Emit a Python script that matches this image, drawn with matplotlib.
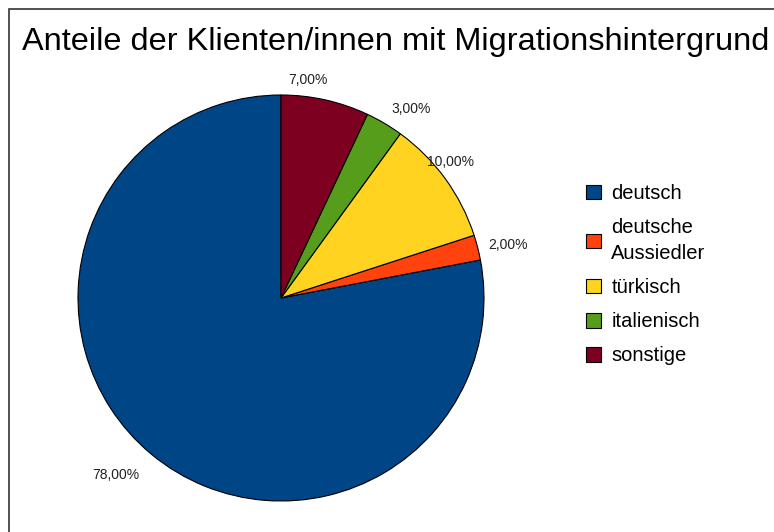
import numpy as np
import matplotlib.pyplot as plt
from matplotlib.patches import Patch, Rectangle

plt.rcParams['font.family'] = ['Liberation Sans', 'DejaVu Sans']

# data
categories = ["deutsch", "deutsche\nAussiedler", "türkisch", "italienisch", "sonstige"]
shares = [78, 2, 10, 3, 7]
colors = ["#004586", "#ff420e", "#ffd320", "#579d1c", "#7e0021"]
title = "Anteile der Klienten/innen mit Migrationshintergrund"

# small nudges of the percent labels (angle in degrees, radius as pie fraction)
label_dang = [-3.4, -1.4, 2.6, -3.8, 5.5]
label_rad = [1.19, 1.15, 1.07, 1.13, 1.08]

fig = plt.figure(figsize=(7.74, 5.32), dpi=100)

# outer frame (runs off the right/bottom edge like the original)
fig.patches.append(Rectangle((9 / 774, -0.05), 1.0, 1 - 9 / 532 + 0.05,
                             transform=fig.transFigure, fill=False,
                             edgecolor="#333333", linewidth=1.2))

fig.text(22 / 774, 1 - 50 / 532, title, fontsize=23.4, va="baseline", ha="left")

ax = fig.add_axes([78 / 774, 31 / 532, 406 / 774, 406 / 532])
wedges, texts, autotexts = ax.pie(
    shares, colors=colors, startangle=90, counterclock=True,
    autopct=lambda p: f"{p:.2f}".replace(".", ",") + "%",
    pctdistance=1.13,
    wedgeprops=dict(edgecolor="black", linewidth=0.8),
    textprops=dict(fontsize=10, color="#222222"),
)
for w, t, da, r in zip(wedges, autotexts, label_dang, label_rad):
    ang = np.deg2rad((w.theta1 + w.theta2) / 2 + da)
    t.set_position((r * np.cos(ang), r * np.sin(ang)))
ax.set_xlim(-1, 1)
ax.set_ylim(-1, 1)
ax.set_aspect("equal")
ax.axis("off")

handles = [Patch(facecolor=c, edgecolor="black", linewidth=0.8) for c in colors]
leg = fig.legend(handles, categories, loc="upper left",
                 bbox_to_anchor=(568 / 774, 1 - 166 / 532), frameon=False,
                 fontsize=14.5, handlelength=0.75, handleheight=0.75,
                 handletextpad=0.5, labelspacing=0.75)
for t in leg.get_texts():
    t.set_linespacing(1.45)

fig.savefig("out.png", dpi=100)
